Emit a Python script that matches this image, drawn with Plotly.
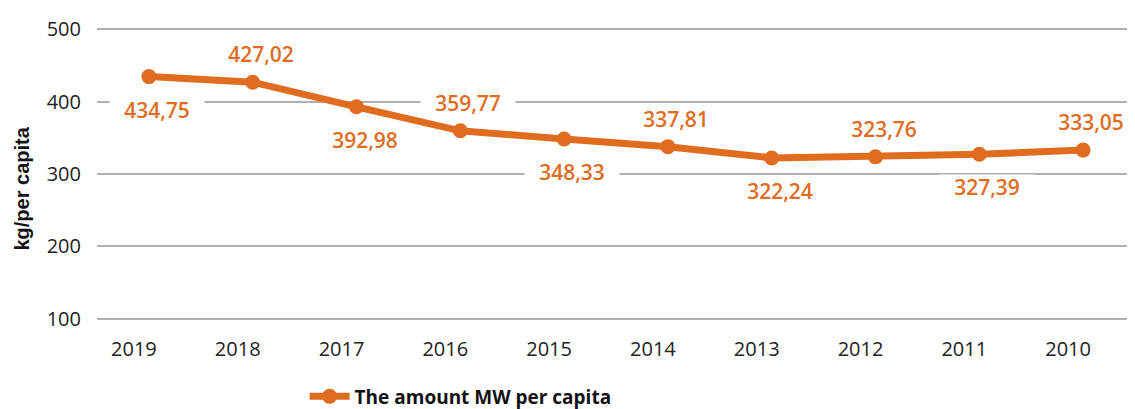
import plotly.graph_objects as go

years = ["2019", "2018", "2017", "2016", "2015", "2014", "2013", "2012", "2011", "2010"]
values = [434.75, 427.02, 392.98, 359.77, 348.33, 337.81, 322.24, 323.76, 327.39, 333.05]
labels = ["434,75", "427,02", "392,98", "359,77", "348,33", "337,81", "322,24", "323,76", "327,39", "333,05"]
series_name = "The amount MW per capita"
y_title = "kg/per capita"
y_ticks = [100, 200, 300, 400, 500]

ORANGE = "#E06C1F"
FONT = "Open Sans"

fig = go.Figure()
fig.add_trace(go.Scatter(
    x=years, y=values, mode="lines+markers", name=series_name,
    line=dict(color=ORANGE, width=7),
    marker=dict(color=ORANGE, size=15),
))

for i, (v, lab) in enumerate(zip(values, labels)):
    above = i % 2 == 1
    fig.add_annotation(
        x=i, y=v, xref="x", yref="y", text=lab, showarrow=False,
        yshift=28 if above else -33, xshift=8,
        font=dict(family=FONT, size=21, color=ORANGE, weight=600),
        bgcolor="white", borderpad=0, width=94, height=24,
    )

fig.add_annotation(
    xref="paper", yref="paper", x=-0.0723, y=0.45, text=y_title,
    showarrow=False, textangle=-90, xanchor="center", yanchor="middle",
    font=dict(family="Liberation Sans", size=20, color="#111111", weight="bold"),
)

fig.update_layout(
    width=1127, height=401,
    margin=dict(l=89, r=0, t=20, b=89, autoexpand=False),
    plot_bgcolor="white", paper_bgcolor="white",
    font=dict(family=FONT, size=20, color="#222222"),
    showlegend=True,
    legend=dict(orientation="h", x=0.2, y=-0.197, xanchor="left", yanchor="top",
                itemwidth=40,
                font=dict(family=FONT, size=19, color="#111111", weight="bold")),
    xaxis=dict(type="category", range=[-0.5, 9.5], showgrid=False, showline=False,
               zeroline=False, ticks="",
               ticklabelshift=-15, ticklabelstandoff=15,
               tickfont=dict(family=FONT, size=20, color="#222222")),
    yaxis=dict(range=[98, 502], tickvals=y_ticks, showgrid=True,
               gridcolor="#b0b0b0", gridwidth=1.5, zeroline=False, showline=False,
               ticks="", ticklabelstandoff=15,
               tickfont=dict(family=FONT, size=20, color="#222222")),
)

fig.write_html("out.html")
